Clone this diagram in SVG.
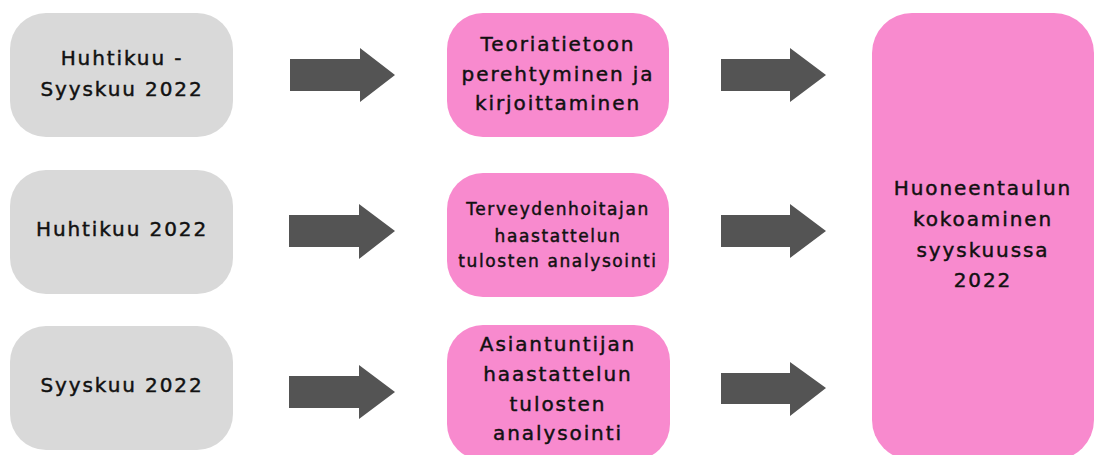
<svg xmlns="http://www.w3.org/2000/svg" width="1095" height="455" viewBox="0 0 1095 455">
<style>
.gray{fill:#d9d9d9}
.pink{fill:#f88ace}
.arr{fill:#545454}
text{font-family:"DejaVu Sans",sans-serif;fill:#111;stroke:#111;stroke-width:0.45px;text-anchor:middle}
.t{font-size:20px;letter-spacing:1.9px}
.s{font-size:17px;letter-spacing:1.6px}
</style>
<rect width="1095" height="455" fill="#ffffff"/>
<g id="n1"><rect class="gray" x="10" y="13" width="223" height="124" rx="36"/>
<text class="t" x="122" y="65">Huhtikuu -</text><text class="t" x="122" y="96">Syyskuu 2022</text></g>
<g id="n2"><rect class="gray" x="10" y="170" width="223" height="124" rx="36"/>
<text class="t" x="122" y="236">Huhtikuu 2022</text></g>
<g id="n3"><rect class="gray" x="10" y="326" width="223" height="124" rx="36"/>
<text class="t" x="122" y="392">Syyskuu 2022</text></g>
<g id="p1"><rect class="pink" x="447" y="13" width="222" height="124" rx="36"/>
<text class="t" x="558" y="51">Teoriatietoon</text><text class="t" x="558" y="81">perehtyminen ja</text><text class="t" x="558" y="110">kirjoittaminen</text></g>
<g id="p2"><rect class="pink" x="447" y="173" width="222" height="124" rx="36"/>
<text class="s" x="558" y="215">Terveydenhoitajan</text><text class="s" x="558" y="242">haastattelun</text><text class="s" x="558" y="267">tulosten analysointi</text></g>
<g id="p3"><rect class="pink" x="447" y="325" width="223" height="135" rx="36"/>
<text class="t" x="558" y="351">Asiantuntijan</text><text class="t" x="558" y="381">haastattelun</text><text class="t" x="558" y="411">tulosten</text><text class="t" x="558" y="440">analysointi</text></g>
<g id="final"><rect class="pink" x="872" y="13" width="222" height="447" rx="40"/>
<text class="t" x="983" y="195">Huoneentaulun</text><text class="t" x="983" y="226">kokoaminen</text><text class="t" x="983" y="257">syyskuussa</text><text class="t" x="983" y="287">2022</text></g>
<g id="connectors">
<polygon class="arr" points="290,59 360,59 360,48 395,75 360,102 360,91 290,91"/>
<polygon class="arr" points="289,215 359,215 359,204 395,231 359,259 359,247 289,247"/>
<polygon class="arr" points="289,376 359,376 359,365 395,392 359,419 359,408 289,408"/>
<polygon class="arr" points="721,59 790,59 790,48 826,75 790,102 790,91 721,91"/>
<polygon class="arr" points="721,215 790,215 790,204 826,231 790,258 790,247 721,247"/>
<polygon class="arr" points="721,373 790,373 790,362 826,388 790,416 790,404 721,404"/>
</g>
</svg>
